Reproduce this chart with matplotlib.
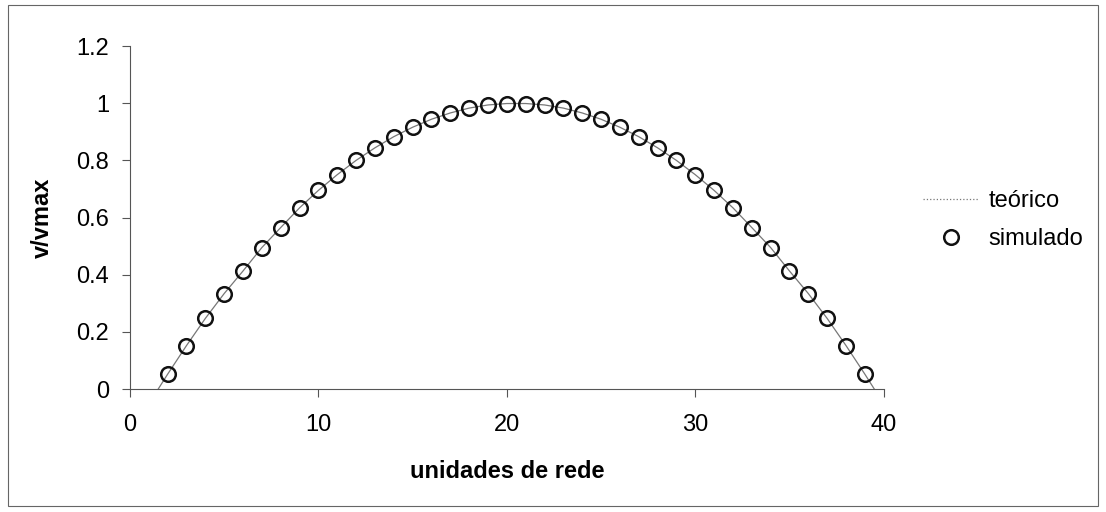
import matplotlib
matplotlib.use("Agg")
import matplotlib.pyplot as plt
import matplotlib.patches as mpatches

plt.rcParams['font.family'] = ['Liberation Sans', 'DejaVu Sans']

# simulated profile (lattice units 2..39)
x_sim = list(range(2, 40))
v_sim = [0.052, 0.152, 0.247, 0.334, 0.413, 0.495, 0.565, 0.634, 0.695, 0.750,
         0.800, 0.844, 0.883, 0.916, 0.944, 0.966, 0.983, 0.994, 0.999, 0.999,
         0.994, 0.983, 0.966, 0.944, 0.916, 0.883, 0.844, 0.800, 0.750, 0.695,
         0.634, 0.565, 0.495, 0.413, 0.334, 0.247, 0.152, 0.052]

# theoretical profile (walls at 1.5 and 39.5)
x_teo = [1.5] + x_sim + [39.5]
v_teo = [0.0] + v_sim + [0.0]

x_ticks = [0, 10, 20, 30, 40]
y_ticks = [0, 0.2, 0.4, 0.6, 0.8, 1, 1.2]
y_ticklabels = ['0', '0.2', '0.4', '0.6', '0.8', '1', '1.2']

fig = plt.figure(figsize=(11.06, 5.12), dpi=100)
ax = fig.add_axes([0.1175, 0.2402, 0.6815, 0.6698])

ax.plot(x_teo, v_teo, color='#777777', lw=0.9, label='teórico', zorder=2)
ax.plot(x_sim, v_sim, linestyle='none', marker='o', markersize=10.5,
        markerfacecolor='none', markeredgecolor='#111111', markeredgewidth=1.8,
        label='simulado', zorder=3)

ax.set_xlim(0, 40)
ax.set_ylim(0, 1.2)
ax.set_xticks(x_ticks)
ax.set_yticks(y_ticks)
ax.set_yticklabels(y_ticklabels)
ax.spines['top'].set_visible(False)
ax.spines['right'].set_visible(False)
ax.spines['left'].set_color('#555555')
ax.spines['bottom'].set_color('#555555')
ax.tick_params(direction='out', length=6, width=0.8, color='#555555',
               labelsize=17)
ax.tick_params(axis='y', pad=9)
ax.tick_params(axis='x', pad=12)
ax.set_xlabel('unidades de rede', fontsize=17, fontweight='bold', labelpad=17)
ax.set_ylabel('v/vmax', fontsize=17, fontweight='bold', labelpad=16)

leg_line = plt.Line2D([], [], color='#777777', lw=0.9, linestyle=':')
leg_mark = plt.Line2D([], [], linestyle='none', marker='o', markersize=10.5,
                      markerfacecolor='none', markeredgecolor='#111111',
                      markeredgewidth=1.8)
fig.legend([leg_line, leg_mark], ['teórico', 'simulado'],
           loc='center left', bbox_to_anchor=(0.815, 0.57), frameon=False,
           fontsize=17, handlelength=2.4, handletextpad=0.4, labelspacing=0.7)

# outer frame
fig.patches.append(mpatches.Rectangle((0.007, 0.012), 0.986, 0.978,
                                      transform=fig.transFigure, fill=False,
                                      edgecolor='#666666', lw=0.8))

plt.savefig('out.png', dpi=100)
